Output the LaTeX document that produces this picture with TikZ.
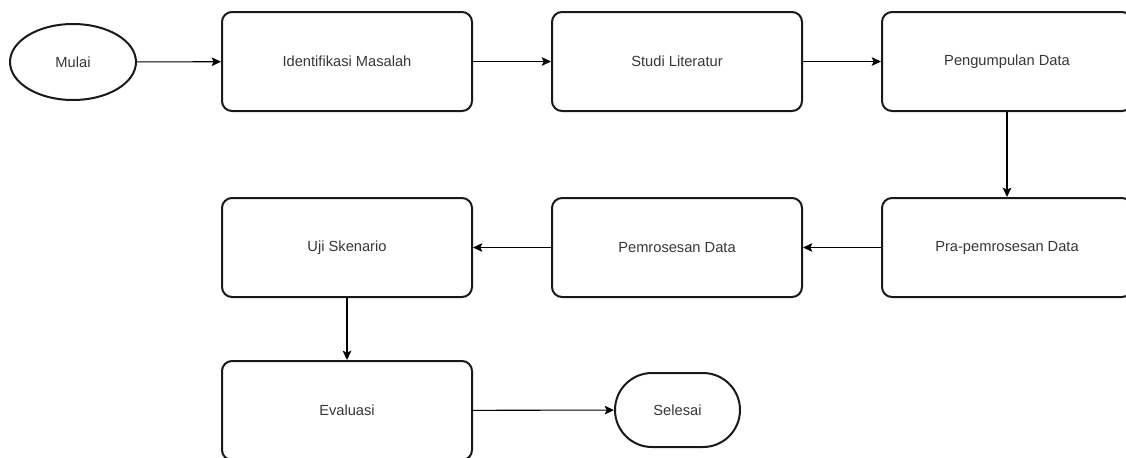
\documentclass[tikz,border=0pt]{standalone}
\usepackage{fontspec}
\setmainfont{Liberation Sans}
\usetikzlibrary{arrows.meta,shapes.geometric,shapes.misc}
\definecolor{txt}{RGB}{55,55,55}
\tikzset{
  stepbox/.style={draw=black!90, line width=1.5pt, rounded corners=7.5pt, minimum width=187.5pt, minimum height=74.25pt, inner sep=0pt, text=txt, font=\fontsize{11pt}{13pt}\selectfont},
  termell/.style={draw=black!90, line width=1.5pt, ellipse, minimum width=94.5pt, minimum height=57pt, inner sep=0pt, text=txt, font=\fontsize{11pt}{13pt}\selectfont},
  termpill/.style={draw=black!90, line width=1.5pt, rounded rectangle, minimum width=93.75pt, minimum height=55.5pt, inner sep=0pt, text=txt, font=\fontsize{11pt}{13pt}\selectfont},
  conn/.style={line width=0.8pt, -{Stealth[length=7pt,width=6.5pt,inset=1.5pt]}}
}
\begin{document}
\begin{tikzpicture}[x=0.75pt,y=-0.75pt]
\useasboundingbox (0,0) rectangle (1126,457);
\clip (0,0) rectangle (1126,457);
\fill[white] (0,0) rectangle (1126,457);
\node[termell] (mulai) at (73,62) {Mulai};
\node[stepbox] (b1) at (347,61.5) {Identifikasi Masalah};
\node[stepbox] (b2) at (677,61.5) {Studi Literatur};
\node[stepbox] (b3) at (1007,61.5) {Pengumpulan Data};
\node[stepbox] (b4) at (1007,247.5) {Pra-pemrosesan Data};
\node[stepbox] (b5) at (677,247.5) {Pemrosesan Data};
\node[stepbox] (b6) at (347,247.5) {Uji Skenario};
\node[stepbox] (b7) at (347,410.5) {Evaluasi};
\node[termpill] (selesai) at (677.5,410) {Selesai};
\draw[conn] (mulai) -- (b1);
\draw[conn] (b1) -- (b2);
\draw[conn] (b2) -- (b3);
\draw[conn] (b3) -- (b4);
\draw[conn] (b4) -- (b5);
\draw[conn] (b5) -- (b6);
\draw[conn] (b6) -- (b7);
\draw[conn] (b7) -- (selesai);
\end{tikzpicture}
\end{document}
